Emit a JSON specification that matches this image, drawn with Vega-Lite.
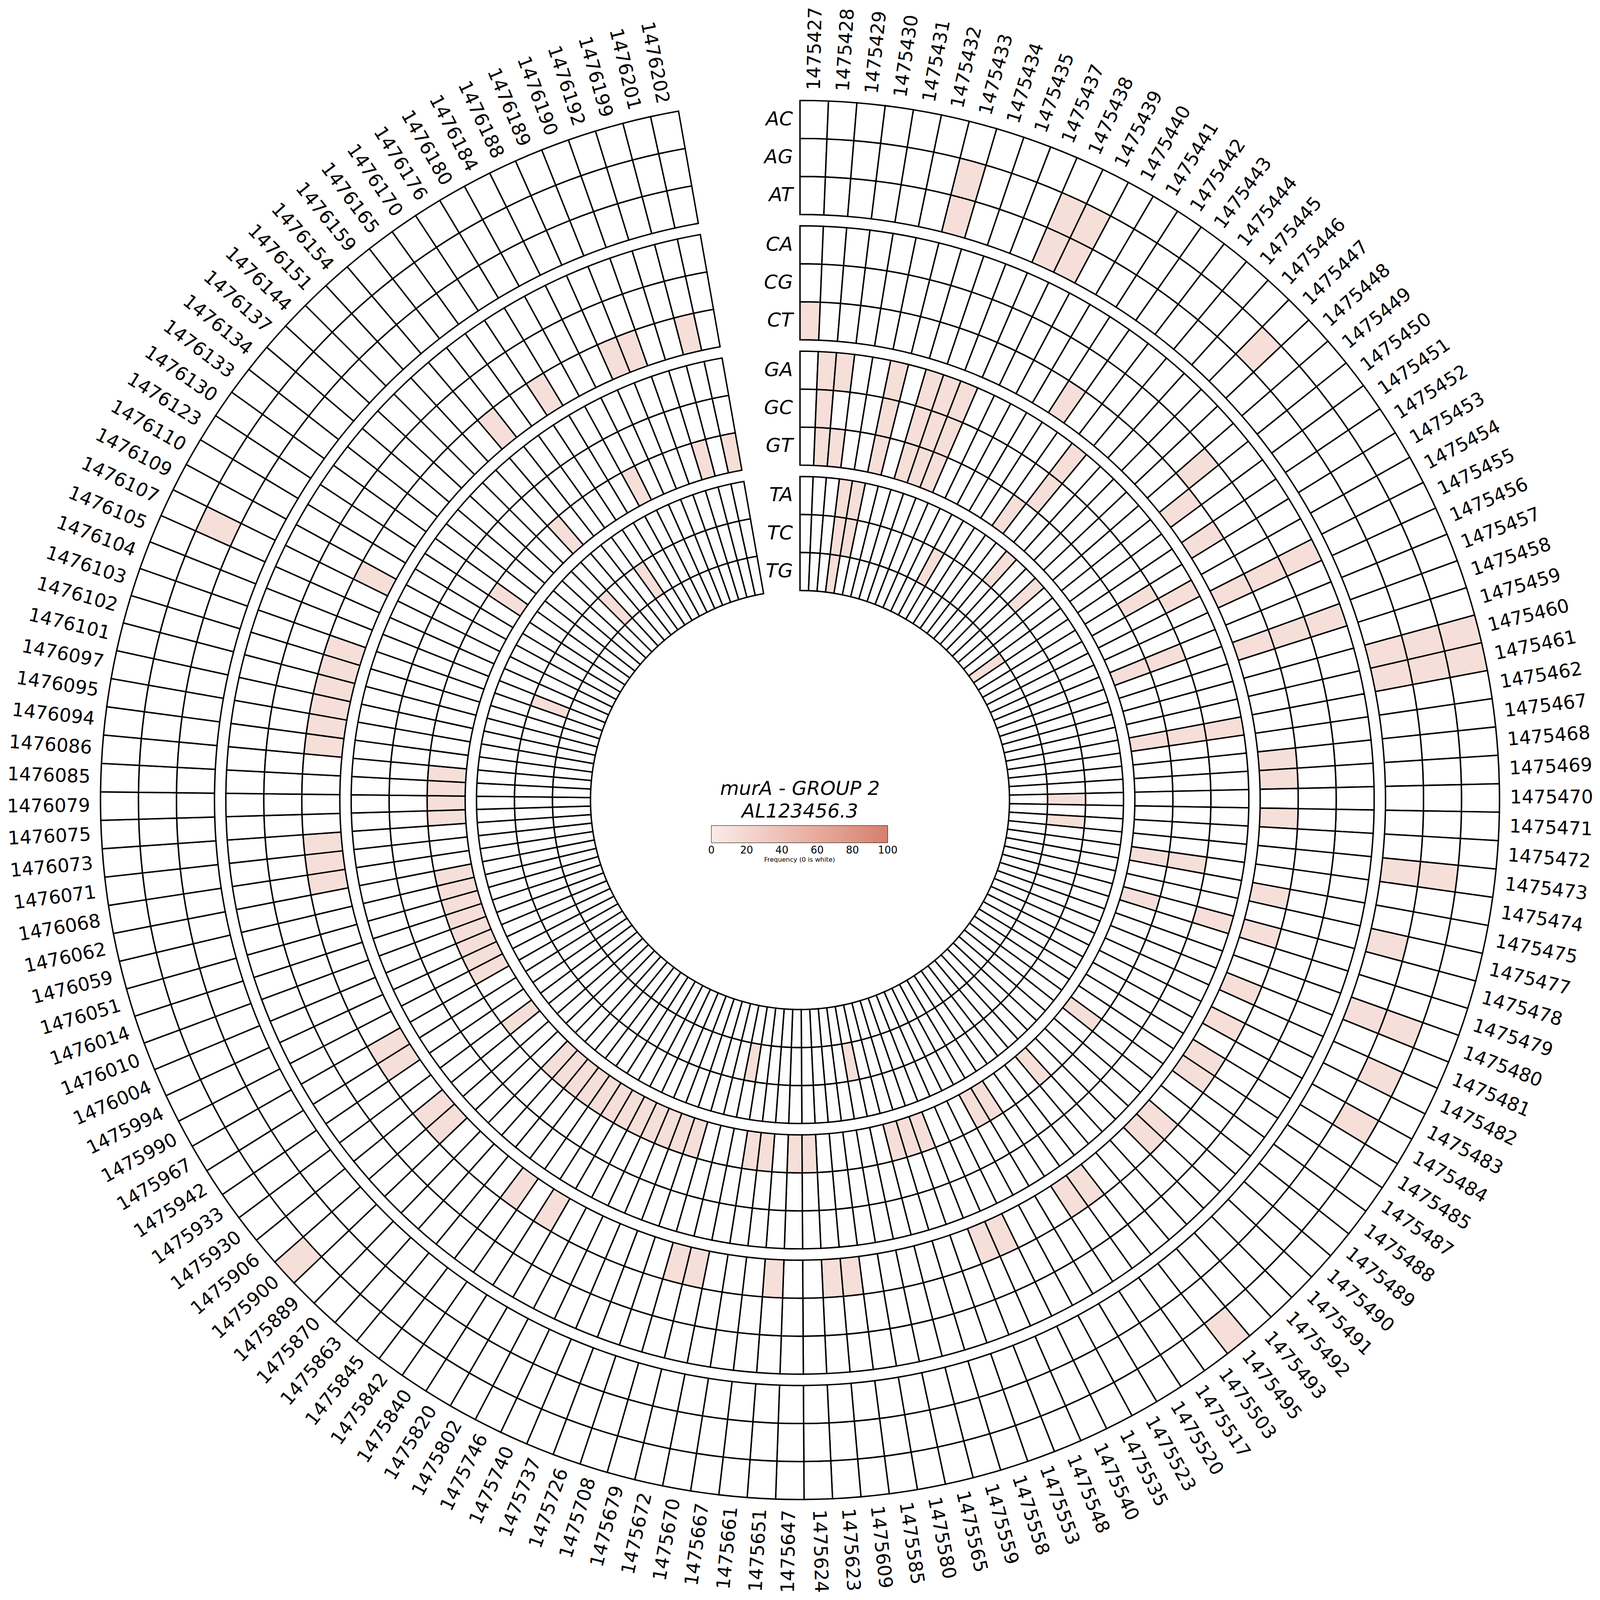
{
  "$schema": "https://vega.github.io/schema/vega-lite/v6.json",
  "width": 4096,
  "height": 4096,
  "autosize": {"type": "fit", "contains": "padding"},
  "padding": 0,
  "background": "white",
  "config": {"view": {"stroke": null}, "font": "DejaVu Sans"},
  "datasets": {
    "cells": [
      {"p":1475427,"AC":0,"AG":0,"AT":0,"CA":0,"CG":0,"CT":12,"GA":0,"GC":0,"GT":0,"TA":0,"TC":0,"TG":0},
      {"p":1475428,"AC":0,"AG":0,"AT":0,"CA":0,"CG":0,"CT":0,"GA":12,"GC":12,"GT":12,"TA":0,"TC":0,"TG":0},
      {"p":1475429,"AC":0,"AG":0,"AT":0,"CA":0,"CG":0,"CT":0,"GA":12,"GC":0,"GT":12,"TA":0,"TC":0,"TG":0},
      {"p":1475430,"AC":0,"AG":0,"AT":0,"CA":0,"CG":0,"CT":0,"GA":0,"GC":0,"GT":0,"TA":12,"TC":12,"TG":12},
      {"p":1475431,"AC":0,"AG":0,"AT":0,"CA":0,"CG":0,"CT":0,"GA":0,"GC":0,"GT":0,"TA":12,"TC":12,"TG":0},
      {"p":1475432,"AC":0,"AG":0,"AT":0,"CA":0,"CG":0,"CT":0,"GA":12,"GC":12,"GT":12,"TA":0,"TC":0,"TG":0},
      {"p":1475433,"AC":0,"AG":12,"AT":12,"CA":0,"CG":0,"CT":0,"GA":0,"GC":0,"GT":0,"TA":0,"TC":0,"TG":0},
      {"p":1475434,"AC":0,"AG":0,"AT":0,"CA":0,"CG":0,"CT":0,"GA":12,"GC":12,"GT":12,"TA":0,"TC":0,"TG":0},
      {"p":1475435,"AC":0,"AG":0,"AT":0,"CA":0,"CG":0,"CT":0,"GA":12,"GC":12,"GT":12,"TA":0,"TC":0,"TG":0},
      {"p":1475437,"AC":0,"AG":0,"AT":0,"CA":0,"CG":0,"CT":0,"GA":12,"GC":12,"GT":12,"TA":0,"TC":0,"TG":0},
      {"p":1475438,"AC":0,"AG":12,"AT":12,"CA":0,"CG":0,"CT":0,"GA":0,"GC":0,"GT":0,"TA":0,"TC":0,"TG":0},
      {"p":1475439,"AC":0,"AG":12,"AT":12,"CA":0,"CG":0,"CT":0,"GA":0,"GC":0,"GT":0,"TA":0,"TC":0,"TG":0},
      {"p":1475440,"AC":0,"AG":0,"AT":0,"CA":0,"CG":0,"CT":0,"GA":0,"GC":0,"GT":0,"TA":0,"TC":12,"TG":0},
      {"p":1475441,"AC":0,"AG":0,"AT":0,"CA":0,"CG":0,"CT":0,"GA":0,"GC":0,"GT":0,"TA":0,"TC":0,"TG":0},
      {"p":1475442,"AC":0,"AG":0,"AT":0,"CA":0,"CG":0,"CT":12,"GA":0,"GC":0,"GT":0,"TA":0,"TC":0,"TG":0},
      {"p":1475443,"AC":0,"AG":0,"AT":0,"CA":0,"CG":0,"CT":0,"GA":0,"GC":0,"GT":12,"TA":0,"TC":0,"TG":0},
      {"p":1475444,"AC":0,"AG":0,"AT":0,"CA":0,"CG":0,"CT":0,"GA":12,"GC":12,"GT":0,"TA":0,"TC":0,"TG":0},
      {"p":1475445,"AC":0,"AG":0,"AT":0,"CA":0,"CG":0,"CT":0,"GA":0,"GC":0,"GT":0,"TA":12,"TC":0,"TG":0},
      {"p":1475446,"AC":0,"AG":0,"AT":0,"CA":0,"CG":0,"CT":0,"GA":0,"GC":0,"GT":0,"TA":0,"TC":0,"TG":0},
      {"p":1475447,"AC":0,"AG":12,"AT":0,"CA":0,"CG":0,"CT":0,"GA":0,"GC":0,"GT":0,"TA":0,"TC":0,"TG":0},
      {"p":1475448,"AC":0,"AG":0,"AT":0,"CA":0,"CG":0,"CT":0,"GA":0,"GC":0,"GT":0,"TA":12,"TC":0,"TG":0},
      {"p":1475449,"AC":0,"AG":0,"AT":0,"CA":0,"CG":12,"CT":0,"GA":0,"GC":0,"GT":0,"TA":0,"TC":0,"TG":0},
      {"p":1475450,"AC":0,"AG":0,"AT":0,"CA":0,"CG":0,"CT":12,"GA":0,"GC":0,"GT":0,"TA":0,"TC":0,"TG":0},
      {"p":1475451,"AC":0,"AG":0,"AT":0,"CA":0,"CG":0,"CT":0,"GA":0,"GC":0,"GT":0,"TA":0,"TC":0,"TG":12},
      {"p":1475452,"AC":0,"AG":0,"AT":0,"CA":0,"CG":0,"CT":12,"GA":0,"GC":0,"GT":0,"TA":0,"TC":0,"TG":0},
      {"p":1475453,"AC":0,"AG":0,"AT":0,"CA":0,"CG":0,"CT":0,"GA":0,"GC":12,"GT":0,"TA":0,"TC":0,"TG":0},
      {"p":1475454,"AC":0,"AG":0,"AT":0,"CA":0,"CG":0,"CT":0,"GA":12,"GC":0,"GT":0,"TA":0,"TC":0,"TG":0},
      {"p":1475455,"AC":0,"AG":0,"AT":0,"CA":12,"CG":12,"CT":12,"GA":0,"GC":0,"GT":0,"TA":0,"TC":0,"TG":0},
      {"p":1475456,"AC":0,"AG":0,"AT":0,"CA":0,"CG":0,"CT":0,"GA":0,"GC":0,"GT":0,"TA":0,"TC":0,"TG":0},
      {"p":1475457,"AC":0,"AG":0,"AT":0,"CA":0,"CG":0,"CT":0,"GA":0,"GC":12,"GT":12,"TA":0,"TC":0,"TG":0},
      {"p":1475458,"AC":0,"AG":0,"AT":0,"CA":12,"CG":12,"CT":12,"GA":0,"GC":0,"GT":0,"TA":0,"TC":0,"TG":0},
      {"p":1475459,"AC":0,"AG":0,"AT":0,"CA":0,"CG":0,"CT":0,"GA":0,"GC":0,"GT":0,"TA":0,"TC":0,"TG":0},
      {"p":1475460,"AC":12,"AG":12,"AT":12,"CA":0,"CG":0,"CT":0,"GA":0,"GC":0,"GT":0,"TA":0,"TC":0,"TG":0},
      {"p":1475461,"AC":12,"AG":12,"AT":12,"CA":0,"CG":0,"CT":0,"GA":0,"GC":0,"GT":0,"TA":0,"TC":0,"TG":0},
      {"p":1475462,"AC":0,"AG":0,"AT":0,"CA":0,"CG":0,"CT":0,"GA":12,"GC":12,"GT":12,"TA":0,"TC":0,"TG":0},
      {"p":1475467,"AC":0,"AG":0,"AT":0,"CA":0,"CG":0,"CT":0,"GA":0,"GC":0,"GT":0,"TA":0,"TC":0,"TG":0},
      {"p":1475468,"AC":0,"AG":0,"AT":0,"CA":0,"CG":0,"CT":12,"GA":0,"GC":0,"GT":0,"TA":0,"TC":0,"TG":0},
      {"p":1475469,"AC":0,"AG":0,"AT":0,"CA":0,"CG":0,"CT":12,"GA":0,"GC":0,"GT":0,"TA":0,"TC":0,"TG":0},
      {"p":1475470,"AC":0,"AG":0,"AT":0,"CA":0,"CG":0,"CT":0,"GA":0,"GC":0,"GT":0,"TA":0,"TC":12,"TG":0},
      {"p":1475471,"AC":0,"AG":0,"AT":0,"CA":0,"CG":0,"CT":12,"GA":0,"GC":0,"GT":0,"TA":0,"TC":0,"TG":0},
      {"p":1475472,"AC":0,"AG":0,"AT":0,"CA":0,"CG":0,"CT":0,"GA":0,"GC":0,"GT":0,"TA":0,"TC":12,"TG":0},
      {"p":1475473,"AC":0,"AG":12,"AT":12,"CA":0,"CG":0,"CT":0,"GA":0,"GC":0,"GT":0,"TA":0,"TC":0,"TG":0},
      {"p":1475474,"AC":0,"AG":0,"AT":0,"CA":0,"CG":0,"CT":0,"GA":0,"GC":12,"GT":12,"TA":0,"TC":0,"TG":0},
      {"p":1475475,"AC":0,"AG":0,"AT":0,"CA":0,"CG":0,"CT":12,"GA":0,"GC":0,"GT":0,"TA":0,"TC":0,"TG":0},
      {"p":1475477,"AC":0,"AG":0,"AT":12,"CA":0,"CG":0,"CT":0,"GA":0,"GC":0,"GT":0,"TA":0,"TC":0,"TG":0},
      {"p":1475478,"AC":0,"AG":0,"AT":0,"CA":0,"CG":0,"CT":12,"GA":12,"GC":0,"GT":12,"TA":0,"TC":0,"TG":0},
      {"p":1475479,"AC":0,"AG":0,"AT":0,"CA":0,"CG":0,"CT":0,"GA":0,"GC":0,"GT":0,"TA":0,"TC":0,"TG":0},
      {"p":1475480,"AC":0,"AG":12,"AT":12,"CA":0,"CG":0,"CT":0,"GA":0,"GC":0,"GT":0,"TA":0,"TC":0,"TG":0},
      {"p":1475481,"AC":0,"AG":0,"AT":0,"CA":0,"CG":0,"CT":12,"GA":0,"GC":0,"GT":0,"TA":0,"TC":0,"TG":0},
      {"p":1475482,"AC":0,"AG":12,"AT":0,"CA":0,"CG":0,"CT":0,"GA":0,"GC":0,"GT":0,"TA":0,"TC":0,"TG":0},
      {"p":1475483,"AC":0,"AG":0,"AT":0,"CA":0,"CG":0,"CT":12,"GA":0,"GC":0,"GT":0,"TA":0,"TC":0,"TG":0},
      {"p":1475484,"AC":0,"AG":12,"AT":0,"CA":0,"CG":0,"CT":0,"GA":0,"GC":0,"GT":0,"TA":0,"TC":0,"TG":0},
      {"p":1475485,"AC":0,"AG":0,"AT":0,"CA":0,"CG":0,"CT":12,"GA":0,"GC":0,"GT":0,"TA":0,"TC":0,"TG":0},
      {"p":1475487,"AC":0,"AG":0,"AT":0,"CA":0,"CG":0,"CT":12,"GA":0,"GC":0,"GT":0,"TA":0,"TC":0,"TG":0},
      {"p":1475488,"AC":0,"AG":0,"AT":0,"CA":0,"CG":0,"CT":0,"GA":0,"GC":0,"GT":12,"TA":0,"TC":0,"TG":0},
      {"p":1475489,"AC":0,"AG":0,"AT":0,"CA":0,"CG":0,"CT":0,"GA":0,"GC":0,"GT":0,"TA":0,"TC":0,"TG":0},
      {"p":1475490,"AC":0,"AG":0,"AT":0,"CA":0,"CG":0,"CT":12,"GA":0,"GC":0,"GT":0,"TA":0,"TC":0,"TG":0},
      {"p":1475491,"AC":0,"AG":0,"AT":0,"CA":0,"CG":0,"CT":12,"GA":0,"GC":0,"GT":0,"TA":0,"TC":0,"TG":0},
      {"p":1475492,"AC":0,"AG":0,"AT":0,"CA":0,"CG":0,"CT":0,"GA":0,"GC":0,"GT":0,"TA":0,"TC":0,"TG":0},
      {"p":1475493,"AC":0,"AG":0,"AT":0,"CA":0,"CG":0,"CT":0,"GA":0,"GC":0,"GT":12,"TA":0,"TC":0,"TG":0},
      {"p":1475495,"AC":12,"AG":0,"AT":0,"CA":0,"CG":0,"CT":0,"GA":0,"GC":0,"GT":0,"TA":0,"TC":0,"TG":0},
      {"p":1475503,"AC":0,"AG":0,"AT":0,"CA":0,"CG":0,"CT":12,"GA":0,"GC":0,"GT":0,"TA":0,"TC":0,"TG":0},
      {"p":1475517,"AC":0,"AG":0,"AT":0,"CA":0,"CG":0,"CT":12,"GA":0,"GC":0,"GT":0,"TA":0,"TC":0,"TG":0},
      {"p":1475520,"AC":0,"AG":0,"AT":0,"CA":0,"CG":0,"CT":0,"GA":0,"GC":0,"GT":12,"TA":0,"TC":0,"TG":0},
      {"p":1475523,"AC":0,"AG":0,"AT":0,"CA":0,"CG":0,"CT":0,"GA":0,"GC":0,"GT":12,"TA":0,"TC":0,"TG":0},
      {"p":1475535,"AC":0,"AG":0,"AT":0,"CA":0,"CG":0,"CT":0,"GA":0,"GC":0,"GT":0,"TA":0,"TC":0,"TG":0},
      {"p":1475540,"AC":0,"AG":0,"AT":0,"CA":0,"CG":0,"CT":12,"GA":0,"GC":0,"GT":0,"TA":0,"TC":0,"TG":0},
      {"p":1475548,"AC":0,"AG":0,"AT":0,"CA":0,"CG":0,"CT":12,"GA":0,"GC":0,"GT":0,"TA":0,"TC":0,"TG":0},
      {"p":1475553,"AC":0,"AG":0,"AT":0,"CA":0,"CG":0,"CT":0,"GA":0,"GC":0,"GT":12,"TA":0,"TC":0,"TG":0},
      {"p":1475558,"AC":0,"AG":0,"AT":0,"CA":0,"CG":0,"CT":0,"GA":0,"GC":0,"GT":12,"TA":0,"TC":0,"TG":0},
      {"p":1475559,"AC":0,"AG":0,"AT":0,"CA":0,"CG":0,"CT":0,"GA":0,"GC":0,"GT":12,"TA":0,"TC":0,"TG":0},
      {"p":1475565,"AC":0,"AG":0,"AT":0,"CA":0,"CG":0,"CT":0,"GA":0,"GC":0,"GT":0,"TA":0,"TC":0,"TG":0},
      {"p":1475580,"AC":0,"AG":0,"AT":0,"CA":0,"CG":0,"CT":0,"GA":0,"GC":0,"GT":0,"TA":0,"TC":12,"TG":0},
      {"p":1475585,"AC":0,"AG":0,"AT":0,"CA":0,"CG":0,"CT":0,"GA":0,"GC":0,"GT":0,"TA":0,"TC":0,"TG":0},
      {"p":1475609,"AC":0,"AG":0,"AT":0,"CA":0,"CG":0,"CT":12,"GA":0,"GC":0,"GT":0,"TA":0,"TC":0,"TG":0},
      {"p":1475623,"AC":0,"AG":0,"AT":0,"CA":0,"CG":0,"CT":12,"GA":0,"GC":0,"GT":0,"TA":0,"TC":0,"TG":0},
      {"p":1475624,"AC":0,"AG":0,"AT":0,"CA":0,"CG":0,"CT":0,"GA":0,"GC":0,"GT":12,"TA":0,"TC":0,"TG":0},
      {"p":1475647,"AC":0,"AG":0,"AT":0,"CA":0,"CG":0,"CT":0,"GA":0,"GC":0,"GT":12,"TA":0,"TC":0,"TG":0},
      {"p":1475651,"AC":0,"AG":0,"AT":0,"CA":0,"CG":0,"CT":12,"GA":0,"GC":0,"GT":0,"TA":0,"TC":0,"TG":0},
      {"p":1475661,"AC":0,"AG":0,"AT":0,"CA":0,"CG":0,"CT":0,"GA":0,"GC":0,"GT":12,"TA":0,"TC":0,"TG":0},
      {"p":1475667,"AC":0,"AG":0,"AT":0,"CA":0,"CG":0,"CT":0,"GA":0,"GC":0,"GT":12,"TA":0,"TC":0,"TG":0},
      {"p":1475670,"AC":0,"AG":0,"AT":0,"CA":0,"CG":0,"CT":0,"GA":0,"GC":0,"GT":0,"TA":0,"TC":12,"TG":0},
      {"p":1475672,"AC":0,"AG":0,"AT":0,"CA":0,"CG":0,"CT":12,"GA":0,"GC":0,"GT":0,"TA":0,"TC":0,"TG":0},
      {"p":1475679,"AC":0,"AG":0,"AT":0,"CA":0,"CG":0,"CT":12,"GA":0,"GC":0,"GT":0,"TA":0,"TC":0,"TG":0},
      {"p":1475708,"AC":0,"AG":0,"AT":0,"CA":0,"CG":0,"CT":0,"GA":0,"GC":0,"GT":12,"TA":0,"TC":0,"TG":0},
      {"p":1475726,"AC":0,"AG":0,"AT":0,"CA":0,"CG":0,"CT":0,"GA":0,"GC":0,"GT":12,"TA":0,"TC":0,"TG":0},
      {"p":1475737,"AC":0,"AG":0,"AT":0,"CA":0,"CG":0,"CT":0,"GA":0,"GC":0,"GT":12,"TA":0,"TC":0,"TG":0},
      {"p":1475740,"AC":0,"AG":0,"AT":0,"CA":0,"CG":0,"CT":0,"GA":0,"GC":0,"GT":12,"TA":0,"TC":0,"TG":0},
      {"p":1475746,"AC":0,"AG":0,"AT":0,"CA":0,"CG":0,"CT":0,"GA":0,"GC":0,"GT":12,"TA":0,"TC":0,"TG":0},
      {"p":1475802,"AC":0,"AG":0,"AT":0,"CA":0,"CG":0,"CT":0,"GA":0,"GC":0,"GT":12,"TA":0,"TC":0,"TG":0},
      {"p":1475820,"AC":0,"AG":0,"AT":0,"CA":0,"CG":0,"CT":12,"GA":0,"GC":0,"GT":12,"TA":0,"TC":0,"TG":0},
      {"p":1475840,"AC":0,"AG":0,"AT":0,"CA":0,"CG":0,"CT":0,"GA":0,"GC":0,"GT":12,"TA":0,"TC":0,"TG":0},
      {"p":1475842,"AC":0,"AG":0,"AT":0,"CA":0,"CG":0,"CT":12,"GA":0,"GC":0,"GT":12,"TA":0,"TC":0,"TG":0},
      {"p":1475845,"AC":0,"AG":0,"AT":0,"CA":0,"CG":0,"CT":0,"GA":0,"GC":0,"GT":12,"TA":0,"TC":0,"TG":0},
      {"p":1475863,"AC":0,"AG":0,"AT":0,"CA":0,"CG":0,"CT":0,"GA":0,"GC":0,"GT":12,"TA":0,"TC":0,"TG":0},
      {"p":1475870,"AC":0,"AG":0,"AT":0,"CA":0,"CG":0,"CT":0,"GA":0,"GC":0,"GT":12,"TA":0,"TC":0,"TG":0},
      {"p":1475889,"AC":0,"AG":0,"AT":0,"CA":0,"CG":0,"CT":0,"GA":0,"GC":0,"GT":0,"TA":0,"TC":0,"TG":0},
      {"p":1475900,"AC":12,"AG":0,"AT":0,"CA":0,"CG":0,"CT":12,"GA":0,"GC":0,"GT":0,"TA":0,"TC":0,"TG":0},
      {"p":1475906,"AC":0,"AG":0,"AT":0,"CA":0,"CG":0,"CT":12,"GA":0,"GC":0,"GT":0,"TA":0,"TC":0,"TG":0},
      {"p":1475930,"AC":0,"AG":0,"AT":0,"CA":0,"CG":0,"CT":0,"GA":0,"GC":0,"GT":12,"TA":0,"TC":0,"TG":0},
      {"p":1475933,"AC":0,"AG":0,"AT":0,"CA":0,"CG":0,"CT":0,"GA":0,"GC":0,"GT":0,"TA":0,"TC":0,"TG":0},
      {"p":1475942,"AC":0,"AG":0,"AT":0,"CA":0,"CG":0,"CT":12,"GA":0,"GC":0,"GT":0,"TA":0,"TC":0,"TG":0},
      {"p":1475967,"AC":0,"AG":0,"AT":0,"CA":0,"CG":0,"CT":12,"GA":0,"GC":0,"GT":0,"TA":0,"TC":0,"TG":0},
      {"p":1475990,"AC":0,"AG":0,"AT":0,"CA":0,"CG":0,"CT":0,"GA":0,"GC":0,"GT":12,"TA":0,"TC":0,"TG":0},
      {"p":1475994,"AC":0,"AG":0,"AT":0,"CA":0,"CG":0,"CT":0,"GA":0,"GC":0,"GT":12,"TA":0,"TC":0,"TG":0},
      {"p":1476004,"AC":0,"AG":0,"AT":0,"CA":0,"CG":0,"CT":0,"GA":0,"GC":0,"GT":12,"TA":0,"TC":0,"TG":0},
      {"p":1476010,"AC":0,"AG":0,"AT":0,"CA":0,"CG":0,"CT":0,"GA":0,"GC":0,"GT":12,"TA":0,"TC":0,"TG":0},
      {"p":1476014,"AC":0,"AG":0,"AT":0,"CA":0,"CG":0,"CT":0,"GA":0,"GC":0,"GT":12,"TA":0,"TC":0,"TG":0},
      {"p":1476051,"AC":0,"AG":0,"AT":0,"CA":0,"CG":0,"CT":0,"GA":0,"GC":0,"GT":12,"TA":0,"TC":0,"TG":0},
      {"p":1476059,"AC":0,"AG":0,"AT":0,"CA":0,"CG":0,"CT":0,"GA":0,"GC":0,"GT":12,"TA":0,"TC":0,"TG":0},
      {"p":1476062,"AC":0,"AG":0,"AT":0,"CA":0,"CG":0,"CT":0,"GA":0,"GC":0,"GT":12,"TA":0,"TC":0,"TG":0},
      {"p":1476068,"AC":0,"AG":0,"AT":0,"CA":0,"CG":0,"CT":12,"GA":0,"GC":0,"GT":0,"TA":0,"TC":0,"TG":0},
      {"p":1476071,"AC":0,"AG":0,"AT":0,"CA":0,"CG":0,"CT":12,"GA":0,"GC":0,"GT":0,"TA":0,"TC":0,"TG":0},
      {"p":1476073,"AC":0,"AG":0,"AT":0,"CA":0,"CG":0,"CT":12,"GA":0,"GC":0,"GT":0,"TA":0,"TC":0,"TG":0},
      {"p":1476075,"AC":0,"AG":0,"AT":0,"CA":0,"CG":0,"CT":0,"GA":0,"GC":0,"GT":12,"TA":0,"TC":0,"TG":0},
      {"p":1476079,"AC":0,"AG":0,"AT":0,"CA":0,"CG":0,"CT":0,"GA":0,"GC":0,"GT":12,"TA":0,"TC":0,"TG":0},
      {"p":1476085,"AC":0,"AG":0,"AT":0,"CA":0,"CG":0,"CT":0,"GA":0,"GC":0,"GT":12,"TA":0,"TC":0,"TG":0},
      {"p":1476086,"AC":0,"AG":0,"AT":0,"CA":0,"CG":0,"CT":0,"GA":0,"GC":0,"GT":12,"TA":0,"TC":0,"TG":0},
      {"p":1476094,"AC":0,"AG":0,"AT":0,"CA":0,"CG":0,"CT":12,"GA":0,"GC":0,"GT":0,"TA":0,"TC":0,"TG":0},
      {"p":1476095,"AC":0,"AG":0,"AT":0,"CA":0,"CG":0,"CT":12,"GA":0,"GC":0,"GT":0,"TA":0,"TC":0,"TG":0},
      {"p":1476097,"AC":0,"AG":0,"AT":0,"CA":0,"CG":0,"CT":12,"GA":0,"GC":0,"GT":0,"TA":0,"TC":0,"TG":0},
      {"p":1476101,"AC":0,"AG":0,"AT":0,"CA":0,"CG":0,"CT":12,"GA":0,"GC":0,"GT":0,"TA":0,"TC":0,"TG":0},
      {"p":1476102,"AC":0,"AG":0,"AT":0,"CA":0,"CG":0,"CT":12,"GA":0,"GC":0,"GT":0,"TA":0,"TC":0,"TG":0},
      {"p":1476103,"AC":0,"AG":0,"AT":0,"CA":0,"CG":0,"CT":12,"GA":0,"GC":0,"GT":0,"TA":0,"TC":0,"TG":0},
      {"p":1476104,"AC":0,"AG":0,"AT":0,"CA":0,"CG":0,"CT":0,"GA":0,"GC":0,"GT":0,"TA":0,"TC":12,"TG":0},
      {"p":1476105,"AC":0,"AG":0,"AT":0,"CA":0,"CG":0,"CT":0,"GA":0,"GC":0,"GT":0,"TA":0,"TC":0,"TG":0},
      {"p":1476107,"AC":0,"AG":12,"AT":0,"CA":0,"CG":0,"CT":0,"GA":0,"GC":0,"GT":0,"TA":0,"TC":0,"TG":0},
      {"p":1476109,"AC":0,"AG":0,"AT":0,"CA":0,"CG":0,"CT":12,"GA":0,"GC":0,"GT":0,"TA":0,"TC":0,"TG":0},
      {"p":1476110,"AC":0,"AG":0,"AT":0,"CA":0,"CG":0,"CT":0,"GA":0,"GC":0,"GT":0,"TA":0,"TC":0,"TG":0},
      {"p":1476123,"AC":0,"AG":0,"AT":0,"CA":0,"CG":0,"CT":0,"GA":0,"GC":0,"GT":0,"TA":0,"TC":0,"TG":0},
      {"p":1476130,"AC":0,"AG":0,"AT":0,"CA":0,"CG":0,"CT":0,"GA":0,"GC":0,"GT":12,"TA":0,"TC":0,"TG":0},
      {"p":1476133,"AC":0,"AG":0,"AT":0,"CA":0,"CG":0,"CT":0,"GA":0,"GC":0,"GT":0,"TA":0,"TC":0,"TG":0},
      {"p":1476134,"AC":0,"AG":0,"AT":0,"CA":0,"CG":0,"CT":0,"GA":0,"GC":0,"GT":0,"TA":0,"TC":0,"TG":0},
      {"p":1476137,"AC":0,"AG":0,"AT":0,"CA":0,"CG":0,"CT":0,"GA":0,"GC":0,"GT":0,"TA":0,"TC":0,"TG":0},
      {"p":1476144,"AC":0,"AG":0,"AT":0,"CA":0,"CG":0,"CT":0,"GA":0,"GC":0,"GT":0,"TA":0,"TC":0,"TG":0},
      {"p":1476151,"AC":0,"AG":0,"AT":0,"CA":0,"CG":0,"CT":0,"GA":0,"GC":0,"GT":0,"TA":0,"TC":12,"TG":0},
      {"p":1476154,"AC":0,"AG":0,"AT":0,"CA":0,"CG":0,"CT":0,"GA":0,"GC":0,"GT":12,"TA":0,"TC":0,"TG":0},
      {"p":1476159,"AC":0,"AG":0,"AT":0,"CA":0,"CG":0,"CT":12,"GA":0,"GC":0,"GT":0,"TA":0,"TC":0,"TG":0},
      {"p":1476165,"AC":0,"AG":0,"AT":0,"CA":0,"CG":0,"CT":0,"GA":0,"GC":0,"GT":0,"TA":0,"TC":0,"TG":0},
      {"p":1476170,"AC":0,"AG":0,"AT":0,"CA":0,"CG":0,"CT":0,"GA":0,"GC":0,"GT":0,"TA":0,"TC":12,"TG":0},
      {"p":1476176,"AC":0,"AG":0,"AT":0,"CA":0,"CG":0,"CT":12,"GA":0,"GC":0,"GT":0,"TA":0,"TC":0,"TG":0},
      {"p":1476180,"AC":0,"AG":0,"AT":0,"CA":0,"CG":0,"CT":0,"GA":0,"GC":0,"GT":0,"TA":0,"TC":0,"TG":0},
      {"p":1476184,"AC":0,"AG":0,"AT":0,"CA":0,"CG":0,"CT":0,"GA":0,"GC":0,"GT":12,"TA":0,"TC":0,"TG":0},
      {"p":1476188,"AC":0,"AG":0,"AT":0,"CA":0,"CG":0,"CT":0,"GA":0,"GC":0,"GT":0,"TA":0,"TC":0,"TG":0},
      {"p":1476189,"AC":0,"AG":0,"AT":0,"CA":0,"CG":0,"CT":12,"GA":0,"GC":0,"GT":0,"TA":0,"TC":0,"TG":0},
      {"p":1476190,"AC":0,"AG":0,"AT":0,"CA":0,"CG":0,"CT":12,"GA":0,"GC":0,"GT":0,"TA":0,"TC":0,"TG":0},
      {"p":1476192,"AC":0,"AG":0,"AT":0,"CA":0,"CG":0,"CT":0,"GA":0,"GC":0,"GT":0,"TA":0,"TC":0,"TG":0},
      {"p":1476199,"AC":0,"AG":0,"AT":0,"CA":0,"CG":0,"CT":0,"GA":0,"GC":0,"GT":12,"TA":0,"TC":0,"TG":0},
      {"p":1476201,"AC":0,"AG":0,"AT":0,"CA":0,"CG":0,"CT":12,"GA":0,"GC":0,"GT":0,"TA":0,"TC":0,"TG":0},
      {"p":1476202,"AC":0,"AG":0,"AT":0,"CA":0,"CG":0,"CT":0,"GA":0,"GC":0,"GT":12,"TA":0,"TC":0,"TG":0}
    ]
  },
  "data": {"name": "cells"},
  "layer": [
    {
      "transform": [
        {"fold": ["AC","AG","AT","CA","CG","CT","GA","GC","GT","TA","TC","TG"], "as": ["sub","freq"]},
        {"filter": {"field": "sub", "oneOf": ["AC","AG","AT"]}}
      ],
      "layer": [
        {
          "mark": {"type": "arc", "stroke": "black", "strokeWidth": {"expr": "width*0.000887"}},
          "encoding": {
            "theta": {"field": "p", "type": "nominal", "scale": {"type": "band", "range": [0, 6.108652], "paddingInner": 0, "paddingOuter": 0}},
            "radius": {"field": "sub", "type": "nominal", "scale": {"type": "band", "domain": ["AT","AG","AC"], "range": [{"expr": "width*0.365947"}, {"expr": "width*0.437186"}], "paddingInner": 0, "paddingOuter": 0}},
            "fill": {
              "condition": {"test": "datum.freq <= 0", "value": "#ffffff"},
              "field": "freq", "type": "quantitative",
              "scale": {"domain": [0, 100], "range": ["#f9ece9", "#d5806d"]},
              "legend": {
                "orient": "none", "legendX": {"expr": "width*0.444576"}, "legendY": {"expr": "width*0.515962"}, "direction": "horizontal",
                "gradientLength": {"expr": "width*0.110257"}, "gradientThickness": {"expr": "width*0.010789"}, "gradientStrokeColor": "black", "gradientStrokeWidth": 1,
                "values": [0, 20, 40, 60, 80, 100], "labelAlign": "center", "labelFontSize": {"expr": "width*0.0064"}, "labelColor": "black", "labelOffset": {"expr": "width*0.0015"},
                "title": "Frequency (0 is white)", "titleOrient": "bottom", "titleAnchor": "middle", "titleFontSize": {"expr": "width*0.004"},
                "titleFontWeight": "normal", "titleColor": "black", "titlePadding": {"expr": "width*0.0006"}, "titleLimit": 5000, "padding": 0,
                "encode": {"labels": {"update": {"align": {"value": "center"}}}}
              }
            }
          }
        },
        {
          "transform": [{"filter": {"field": "p", "equal": 1475427}}],
          "mark": {"type": "text", "align": "right", "baseline": "middle", "dx": {"expr": "-width*0.004434"}, "fontSize": {"expr": "width*0.012267"}, "fontStyle": "italic"},
          "encoding": {
            "theta": {"value": 0},
            "radius": {"field": "sub", "type": "nominal"},
            "text": {"field": "sub", "type": "nominal"}
          }
        }
      ]
    },
    {
      "transform": [
        {"fold": ["AC","AG","AT","CA","CG","CT","GA","GC","GT","TA","TC","TG"], "as": ["sub","freq"]},
        {"filter": {"field": "sub", "oneOf": ["CA","CG","CT"]}}
      ],
      "layer": [
        {
          "mark": {"type": "arc", "stroke": "black", "strokeWidth": {"expr": "width*0.000887"}},
          "encoding": {
            "theta": {"field": "p", "type": "nominal"},
            "radius": {"field": "sub", "type": "nominal", "scale": {"type": "band", "domain": ["CT","CG","CA"], "range": [{"expr": "width*0.287615"}, {"expr": "width*0.358853"}], "paddingInner": 0, "paddingOuter": 0}},
            "fill": {"condition": {"test": "datum.freq <= 0", "value": "#ffffff"}, "field": "freq", "type": "quantitative"}
          }
        },
        {
          "transform": [{"filter": {"field": "p", "equal": 1475427}}],
          "mark": {"type": "text", "align": "right", "baseline": "middle", "dx": {"expr": "-width*0.004434"}, "fontSize": {"expr": "width*0.012267"}, "fontStyle": "italic"},
          "encoding": {
            "theta": {"value": 0},
            "radius": {"field": "sub", "type": "nominal"},
            "text": {"field": "sub", "type": "nominal"}
          }
        }
      ]
    },
    {
      "transform": [
        {"fold": ["AC","AG","AT","CA","CG","CT","GA","GC","GT","TA","TC","TG"], "as": ["sub","freq"]},
        {"filter": {"field": "sub", "oneOf": ["GA","GC","GT"]}}
      ],
      "layer": [
        {
          "mark": {"type": "arc", "stroke": "black", "strokeWidth": {"expr": "width*0.000887"}},
          "encoding": {
            "theta": {"field": "p", "type": "nominal"},
            "radius": {"field": "sub", "type": "nominal", "scale": {"type": "band", "domain": ["GT","GC","GA"], "range": [{"expr": "width*0.209282"}, {"expr": "width*0.280520"}], "paddingInner": 0, "paddingOuter": 0}},
            "fill": {"condition": {"test": "datum.freq <= 0", "value": "#ffffff"}, "field": "freq", "type": "quantitative"}
          }
        },
        {
          "transform": [{"filter": {"field": "p", "equal": 1475427}}],
          "mark": {"type": "text", "align": "right", "baseline": "middle", "dx": {"expr": "-width*0.004434"}, "fontSize": {"expr": "width*0.012267"}, "fontStyle": "italic"},
          "encoding": {
            "theta": {"value": 0},
            "radius": {"field": "sub", "type": "nominal"},
            "text": {"field": "sub", "type": "nominal"}
          }
        }
      ]
    },
    {
      "transform": [
        {"fold": ["AC","AG","AT","CA","CG","CT","GA","GC","GT","TA","TC","TG"], "as": ["sub","freq"]},
        {"filter": {"field": "sub", "oneOf": ["TA","TC","TG"]}}
      ],
      "layer": [
        {
          "mark": {"type": "arc", "stroke": "black", "strokeWidth": {"expr": "width*0.000887"}},
          "encoding": {
            "theta": {"field": "p", "type": "nominal"},
            "radius": {"field": "sub", "type": "nominal", "scale": {"type": "band", "domain": ["TG","TC","TA"], "range": [{"expr": "width*0.130949"}, {"expr": "width*0.202187"}], "paddingInner": 0, "paddingOuter": 0}},
            "fill": {"condition": {"test": "datum.freq <= 0", "value": "#ffffff"}, "field": "freq", "type": "quantitative"}
          }
        },
        {
          "transform": [{"filter": {"field": "p", "equal": 1475427}}],
          "mark": {"type": "text", "align": "right", "baseline": "middle", "dx": {"expr": "-width*0.004434"}, "fontSize": {"expr": "width*0.012267"}, "fontStyle": "italic"},
          "encoding": {
            "theta": {"value": 0},
            "radius": {"field": "sub", "type": "nominal"},
            "text": {"field": "sub", "type": "nominal"}
          }
        }
      ]
    },
    {
      "transform": [{"filter": {"field": "p", "lte": 1475624}}],
      "mark": {"type": "text", "align": "left", "baseline": "middle", "fontSize": {"expr": "width*0.011676"}},
      "encoding": {
        "theta": {"field": "p", "type": "nominal"},
        "radius": {"value": {"expr": "width*0.443689"}},
        "angle": {"field": "p", "type": "nominal", "scale": {"type": "point", "range": [-90, 89.6667], "padding": 0.5}},
        "text": {"field": "p", "type": "nominal"}
      }
    },
    {
      "transform": [{"filter": {"field": "p", "gt": 1475624}}],
      "mark": {"type": "text", "align": "right", "baseline": "middle", "fontSize": {"expr": "width*0.011676"}},
      "encoding": {
        "theta": {"field": "p", "type": "nominal"},
        "radius": {"value": {"expr": "width*0.443689"}},
        "angle": {"field": "p", "type": "nominal", "scale": {"type": "point", "range": [-90.3333, 80], "padding": 0.5}},
        "text": {"field": "p", "type": "nominal"}
      }
    },
    {
      "data": {"values": [{"t": "murA - GROUP 2|AL123456.3"}]},
      "mark": {"type": "text", "lineBreak": "|", "fontSize": {"expr": "width*0.01212"}, "fontStyle": "italic", "lineHeight": {"expr": "width*0.014189"}, "align": "center", "baseline": "middle", "dy": {"expr": "-width*0.0068"}},
      "encoding": {
        "theta": {"value": 0},
        "radius": {"value": 0},
        "text": {"field": "t", "type": "nominal"}
      }
    }
  ],
  "resolve": {"scale": {"radius": "independent", "angle": "independent"}}
}
